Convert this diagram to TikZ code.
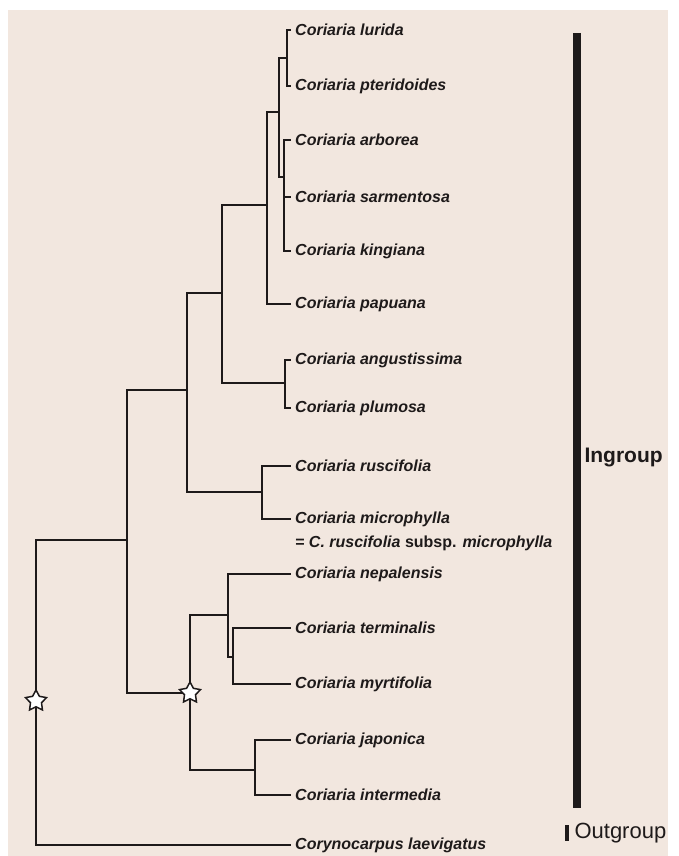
\documentclass[tikz,border=0pt]{standalone}
\usepackage{fontspec}
\setmainfont{Liberation Sans}
\usetikzlibrary{positioning,shapes.geometric}
\definecolor{paper}{HTML}{F2E7DF}
\definecolor{ink}{HTML}{1E1A1A}
\tikzset{taxon/.style={anchor=west,inner sep=4pt,text=ink,
  font=\fontsize{16}{18}\selectfont\bfseries\itshape},
  branch/.style={draw=ink,line width=2pt},
  bsstar/.style={star,star points=5,star point ratio=1.9,draw=ink,fill=white,
  line width=1.5pt,minimum size=22pt,inner sep=0pt}}
\begin{document}
\begin{tikzpicture}[x=1pt,y=-1pt]
\useasboundingbox (0,0) rectangle (679,856);
\fill[white] (0,0) rectangle (679,856);
\fill[paper] (8,10) rectangle (668,856);
\foreach \n/\y/\t in {lur/30/lurida,pte/86/pteridoides,arb/140/arborea,
  sar/197/sarmentosa,kin/251/kingiana,pap/304/papuana,ang/360/angustissima,
  plu/408/plumosa,rus/466/ruscifolia,mic/519/microphylla,nep/574/nepalensis,
  ter/628/terminalis,myr/684/myrtifolia,jap/740/japonica,int/795/intermedia}
  \node[taxon] (\n) at (291,\y) {Coriaria \t};
\node[taxon] (micsyn) at (291,543) {= C. ruscifolia \textup{subsp.} microphylla};
\node[taxon] (cor) at (291,845) {Corynocarpus laevigatus};
\coordinate (nA) at (287,58);
\coordinate (nB) at (279,112);
\coordinate (nC) at (284,177);
\coordinate (nD) at (267,205);
\coordinate (nE) at (285,383);
\coordinate (nF) at (222,293);
\coordinate (nG) at (262,492);
\coordinate (nH) at (187,390);
\coordinate (nI) at (127,540);
\coordinate (nJ) at (190,693);
\coordinate (nK) at (228,615);
\coordinate (nL) at (233,657);
\coordinate (nM) at (255,770);
\coordinate (nR) at (36,701);
\draw[branch] (nA) |- (lur.west) (nA) |- (pte.west);
\draw[branch] (nC) |- (arb.west) (nC) |- (sar.west) (nC) |- (kin.west);
\draw[branch] (nB) |- (nA) (nB) |- (nC);
\draw[branch] (nD) |- (nB) (nD) |- (pap.west);
\draw[branch] (nE) |- (ang.west) (nE) |- (plu.west);
\draw[branch] (nF) |- (nD) (nF) |- (nE);
\draw[branch] (nG) |- (rus.west) (nG) |- (mic.west);
\draw[branch] (nH) |- (nF) (nH) |- (nG);
\draw[branch] (nI) |- (nH) (nI) |- (nJ);
\draw[branch] (nL) |- (ter.west) (nL) |- (myr.west);
\draw[branch] (nK) |- (nep.west) (nK) |- (nL);
\draw[branch] (nM) |- (jap.west) (nM) |- (int.west);
\draw[branch] (nJ) |- (nK) (nJ) |- (nM);
\draw[branch] (nR) |- (nI) (nR) |- (cor.west);
\node[bsstar] (starJ) at (nJ) {};
\node[bsstar] (starR) at (nR) {};
% group bars
\coordinate (intop) at (577,33);
\coordinate (inbot) at (577,808);
\draw[ink,line width=8pt] (intop) -- (inbot);
\node[anchor=west,text=ink,font=\fontsize{21}{23}\selectfont\bfseries] (ingroup) at (581,457) {Ingroup};
\coordinate (outtop) at (567,825);
\coordinate (outbot) at (567,841);
\draw[ink,line width=3.5pt] (outtop) -- (outbot);
\node[anchor=west,text=ink,font=\fontsize{22}{24}\selectfont] (outgroup) at (571,833) {Outgroup};
\end{tikzpicture}
\end{document}
